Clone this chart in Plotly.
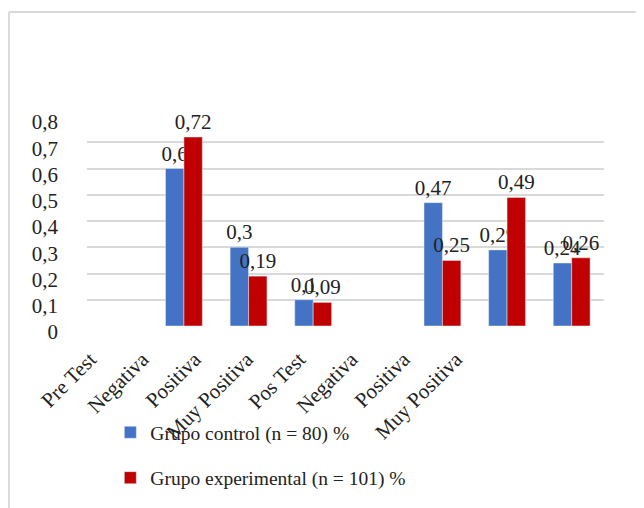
import plotly.graph_objects as go

categorias = ["Pre Test", "Negativa", "Positiva", "Muy Positiva",
              "Pos Test", "Negativa ", "Positiva ", "Muy Positiva "]
etiquetas_x = ["Pre Test", "Negativa", "Positiva", "Muy Positiva",
               "Pos Test", "Negativa", "Positiva", "Muy Positiva"]
control = [None, 0.6, 0.3, 0.1, None, 0.47, 0.29, 0.24]
experimental = [None, 0.72, 0.19, 0.09, None, 0.25, 0.49, 0.26]
y_ticks = [0, 0.1, 0.2, 0.3, 0.4, 0.5, 0.6, 0.7, 0.8]


def etiquetas(vals):
    return ["" if v is None else str(v).replace(".", ",") for v in vals]


font_serif = "Liberation Serif, Times New Roman, serif"

fig = go.Figure()
fig.add_trace(go.Bar(x=categorias, y=control, name="Grupo control (n = 80) %",
                     marker_color="#4472C4", text=etiquetas(control),
                     legendgroup="a"))
fig.add_trace(go.Bar(x=categorias, y=experimental,
                     name="Grupo experimental (n = 101) %",
                     marker_color="#C00000", text=etiquetas(experimental),
                     legendgroup="b"))
fig.update_traces(textposition="outside", cliponaxis=False,
                  constraintext="none",
                  textfont=dict(family=font_serif, size=21, color="#222"))

# etiquetas del eje x (perspectiva 3D de Excel: mas juntas que las barras)
fig.add_trace(go.Scatter(x=[], y=[], xaxis="x2", yaxis="y2",
                         showlegend=False, hoverinfo="skip"))

fig.update_layout(
    width=644, height=508,
    margin=dict(l=52, r=48, t=108, b=190),
    paper_bgcolor="white", plot_bgcolor="rgba(0,0,0,0)",
    separators=",.",
    barmode="group", bargap=0.43, bargroupgap=0,
    font=dict(family=font_serif, size=20, color="#222"),
    xaxis=dict(domain=[0.0496, 1], showticklabels=False, showgrid=False,
               showline=False, ticks="", automargin=False),
    xaxis2=dict(domain=[0.0073, 0.776], anchor="y2", range=[-0.5, 7.5],
                tickvals=list(range(8)), ticktext=etiquetas_x,
                tickangle=-45, showgrid=False, zeroline=False,
                showline=False, ticks="", automargin=False,
                ticklabelstandoff=16,
                tickfont=dict(family=font_serif, size=21, color="#222")),
    yaxis=dict(range=[0, 0.8], tickvals=y_ticks, showgrid=True,
               gridcolor="#d9d9d9", gridwidth=2, zeroline=False,
               ticklabelstandoff=28, ticklabelshift=6, automargin=False,
               tickfont=dict(family=font_serif, size=21, color="#222")),
    yaxis2=dict(domain=[0, 1], anchor="x2", range=[0, 1], visible=False),
    legend=dict(orientation="v", x=0.0925, y=-0.415, xanchor="left",
                yanchor="top", tracegroupgap=17, itemwidth=30,
                bgcolor="rgba(0,0,0,0)",
                font=dict(family=font_serif, size=19.5, color="#222")),
    shapes=[
        dict(type="line", xref="paper", yref="paper", x0=-0.094, x1=1.2,
             y0=1.495, y1=1.495, line=dict(color="#d9d9d9", width=2)),
        dict(type="line", xref="paper", yref="paper", x0=-0.094, x1=-0.094,
             y0=1.495, y1=-1.0, line=dict(color="#d9d9d9", width=2)),
    ],
)

fig.write_html("out.html")
